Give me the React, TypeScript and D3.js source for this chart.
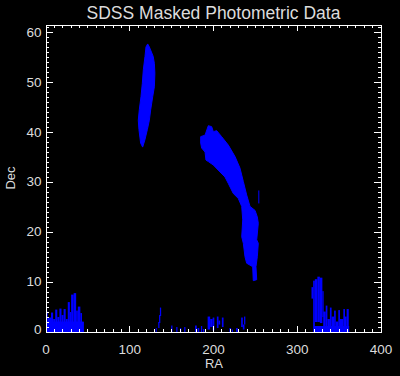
import React from "react";
import * as d3 from "d3";

const TITLE = "SDSS Masked Photometric Data";
const X_LABEL = "RA";
const Y_LABEL = "Dec";
const raDomain: [number, number] = [0, 400];
const decDomain: [number, number] = [0, 61.6];
const raTicks = [0, 100, 200, 300, 400];
const decTicks = [0, 10, 20, 30, 40, 50, 60];

// Stripe outlines [RA, Dec]
const stripeNorth: [number, number][] = [
  [121.4, 57.8], [123.4, 57.2], [128, 55.3], [129.4, 53.9], [130, 51.9], [129.4, 49.2],
  [127.4, 47.2], [125, 44.6], [123.4, 42.5], [121, 40.6], [118, 38.5], [115.4, 37.1],
  [113, 37.9], [111, 40.6], [110.2, 42.5], [111.4, 44.6], [113.4, 47.2], [115, 49.9],
  [116.2, 52.6], [118.2, 55.3], [119.4, 57.2],
];
const stripeArc: [number, number][] = [
  [184.7, 39.2], [189.9, 39.5], [193.8, 41.4], [197.8, 41.2], [199.8, 40.2], [203.8, 40.4],
  [209.7, 39.2], [217.7, 37.5], [225.7, 35.2], [231.6, 32.9], [235.6, 30.2], [239.6, 27.5],
  [243.6, 25.2], [249.6, 24.4], [252.3, 23.1], [253.5, 21.8], [251.6, 18.5], [253.5, 17.8],
  [252.3, 15.1], [250.7, 13.1], [251.6, 10.5], [247.5, 10.3], [246.8, 13.1], [239.6, 13.8],
  [237.6, 15.1], [235.6, 17.8], [233.7, 19.1], [234.9, 22.5], [233.7, 25.2], [229.6, 26.8],
  [223.6, 27.8], [217.7, 29.8], [213.7, 31.1], [207.8, 32.1], [199.8, 33.5], [193.8, 34.2],
  [191, 34.5], [189.9, 36.1], [185.9, 36.9], [184.7, 37.9],
];

// Patches [raStart, raEnd, decLow, decHigh]
const patchesWest: [number, number, number, number][] = [
  [0, 45, 0, 2.1],
  [0, 2, 0, 4.1], [2, 6, 0, 2.9], [6, 8.5, 0, 3.9], [8.5, 11, 0, 2.6], [11, 13.5, 0, 4.5],
  [13.5, 16, 0, 3.0], [16, 18.5, 0, 4.7], [18.5, 21, 0, 3.4], [21, 23.5, 0, 4.6], [23.5, 26, 0, 2.6],
  [26, 28.5, 0, 6.0], [28.5, 30, 0, 4.0], [30, 33, 0, 7.5], [33, 36, 0, 7.8], [36, 38, 0, 4.3],
  [38, 41, 0, 5.1], [41, 43, 0, 3.8], [43, 45, 0, 2.0],
];
const patchesMiddle: [number, number, number, number][] = [
  [131, 132, 0, 0.8], [134, 135.5, 0.8, 2.0], [135, 136.5, 1.8, 3.4], [136, 137.5, 3.2, 4.9],
  [149.5, 151, 0, 1.3], [155.5, 157, 0, 1.0], [160, 161.5, 0, 0.8], [165, 166.5, 0, 1.0],
  [178, 180, 0, 1.3], [181, 183, 0, 0.8], [185, 186.5, 0, 1.2], [187.5, 189, 0, 0.6],
  [193, 196, 0.5, 3.1], [196, 199, 1.0, 2.6], [199, 201, 0.3, 2.9], [204, 206, 0.8, 3.1],
  [206, 208, 1.5, 2.3], [210, 212, 1.0, 2.9], [219, 221, 0, 0.8], [222, 223, 0, 0.5],
  [227, 229, 0, 0.8], [233, 235, 1.0, 2.9], [235, 237, 0.5, 1.5], [236.5, 238, 1.5, 3.1],
  [253.5, 254.7, 25.8, 28.4],
];
const patchesEast: [number, number, number, number][] = [
  [319, 362, 0, 1.2],
  [317, 319, 6.7, 9.0], [319, 321, 2.0, 10.3], [321, 324, 2.0, 10.6], [324, 327, 2.0, 11.1],
  [327, 330, 1.8, 10.9], [330, 331.5, 3.0, 8.2], [319, 321, 1.2, 2.0],
  [331, 334, 1.2, 4.1], [334, 336, 1.2, 5.3], [336, 339, 1.2, 2.6], [339, 341, 1.2, 4.9],
  [341, 344, 1.2, 3.1], [344, 346, 1.2, 4.3], [346, 349, 1.2, 2.1], [349, 351, 1.2, 4.4],
  [351, 355, 1.2, 2.6], [355, 357, 1.2, 4.6], [357, 359, 1.2, 3.1], [359, 361.5, 1.2, 4.6],
];

const W = 400;
const H = 376;
const M = { left: 46, right: 381, top: 25, bottom: 332 };
const BLUE = "#0000ff";
const TEXT = "#dcdcdc";
const FONT = "'Liberation Sans', Arial, sans-serif";

export default function App() {
  const x = d3.scaleLinear().domain(raDomain).range([M.left, M.right]);
  const y = d3.scaleLinear().domain(decDomain).range([M.bottom, M.top]);
  const line = d3
    .line<[number, number]>()
    .x((d) => x(d[0]))
    .y((d) => y(d[1]))
    .curve(d3.curveLinearClosed);

  const allPatches = [...patchesWest, ...patchesMiddle, ...patchesEast];

  const xMinor = d3.range(0, 401, 10);
  const yMinor = d3.range(0, 62, 1);
  const xMajLen = 6.1, xMinLen = 3.2, yMajLen = 6.7, yMinLen = 3.3;

  return (
    <div style={{ position: "fixed", left: 0, top: 0 }}>
      <svg width={W} height={H} style={{ display: "block" }}>
        <rect x={0} y={0} width={W} height={H} fill="#000" />
        <g>
          {[stripeNorth, stripeArc].map((s, i) => (
            <path key={i} d={line(s) || ""} fill={BLUE} stroke={BLUE} strokeWidth={1} />
          ))}
          {allPatches.map((p, i) => (
            <rect
              key={i}
              x={x(p[0])}
              y={y(p[3])}
              width={Math.max(1, x(p[1]) - x(p[0]))}
              height={Math.max(1, y(p[2]) - y(p[3]))}
              fill={BLUE}
            />
          ))}
        </g>
        <g stroke="#fff" strokeWidth={1} shapeRendering="crispEdges">
          <rect x={M.left} y={M.top} width={M.right - M.left} height={M.bottom - M.top} fill="none" />
          {xMinor.map((v) => {
            const len = v % 100 === 0 ? xMajLen : xMinLen;
            return (
              <g key={"x" + v}>
                <line x1={x(v)} x2={x(v)} y1={M.bottom} y2={M.bottom - len} />
                <line x1={x(v)} x2={x(v)} y1={M.top} y2={M.top + len} />
              </g>
            );
          })}
          {yMinor.map((v) => {
            const len = v % 10 === 0 ? yMajLen : yMinLen;
            return (
              <g key={"y" + v}>
                <line x1={M.left} x2={M.left + len} y1={y(v)} y2={y(v)} />
                <line x1={M.right} x2={M.right - len} y1={y(v)} y2={y(v)} />
              </g>
            );
          })}
        </g>
        <g fill={TEXT} fontFamily={FONT}>
          <text x={(M.left + M.right) / 2} y={18.5} fontSize={17.5} textAnchor="middle">
            {TITLE}
          </text>
          {raTicks.map((v) => (
            <text key={v} x={x(v)} y={354} fontSize={13.5} textAnchor="middle">
              {v}
            </text>
          ))}
          {decTicks.map((v) => (
            <text key={v} x={41.5} y={y(v) + 4 - (v === 0 ? 2 : 0)} fontSize={13.5} textAnchor="end">
              {v}
            </text>
          ))}
          <text x={214} y={367.5} fontSize={13} textAnchor="middle">
            {X_LABEL}
          </text>
          <text transform="translate(14.5,178) rotate(-90)" fontSize={13} textAnchor="middle">
            {Y_LABEL}
          </text>
        </g>
      </svg>
    </div>
  );
}
